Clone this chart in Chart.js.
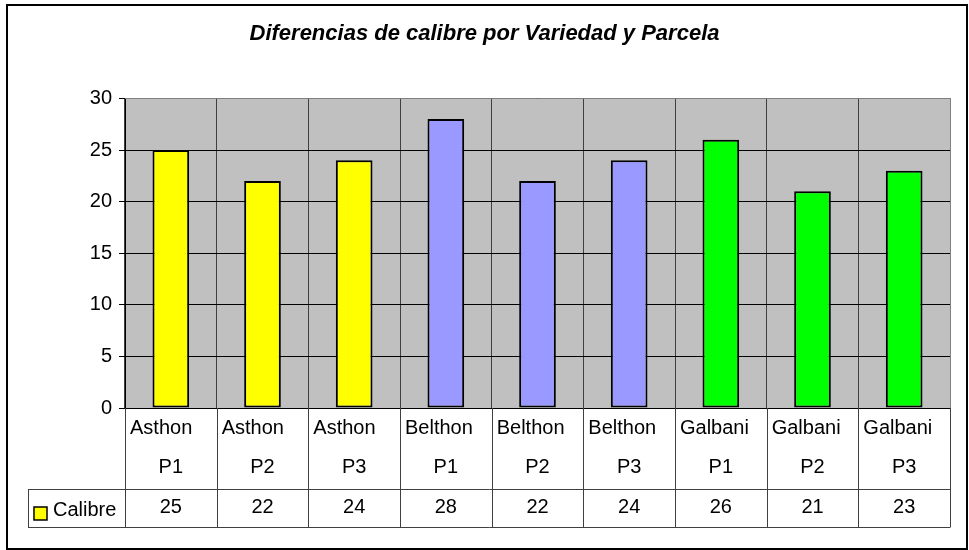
<!DOCTYPE html>
<html>
<head>
<meta charset="utf-8">
<script src="https://cdn.jsdelivr.net/npm/chart.js@4/dist/chart.umd.min.js"></script>
<style>
  html, body { margin: 0; padding: 0; background: #fff; }
  canvas { display: block; }
</style>
</head>
<body>
<canvas id="c" width="969" height="550"></canvas>
<script>
// ---- data ----
const titleText = 'Diferencias de calibre por Variedad y Parcela';
const seriesName = 'Calibre';
const varieties = ['Asthon', 'Asthon', 'Asthon', 'Belthon', 'Belthon', 'Belthon', 'Galbani', 'Galbani', 'Galbani'];
const parcels = ['P1', 'P2', 'P3', 'P1', 'P2', 'P3', 'P1', 'P2', 'P3'];
const calibre = [25, 22, 24, 28, 22, 24, 26, 21, 23];
const yTicks = [0, 5, 10, 15, 20, 25, 30];

// ---- styles ----
const varietyColors = { Asthon: '#FFFF00', Belthon: '#9999FF', Galbani: '#00FF00' };
const FONT = 'Arial, "Liberation Sans", sans-serif';

const labels = varieties.map((v, i) => v + ' ' + parcels[i]);

const bgPlugin = {
  id: 'bg',
  beforeDraw(chart) {
    const { ctx, chartArea: a } = chart;
    ctx.save();
    ctx.fillStyle = '#fff';
    ctx.fillRect(0, 0, chart.width, chart.height);
    ctx.fillStyle = '#C0C0C0';
    ctx.fillRect(a.left, a.top, a.right - a.left, a.bottom - a.top);
    ctx.restore();
  }
};

const tablePlugin = {
  id: 'dataTable',
  afterDraw(chart) {
    const { ctx, chartArea: a, scales: { x } } = chart;
    const n = labels.length;
    const w = x.getPixelForValue(1) - x.getPixelForValue(0);
    const top = a.bottom;
    const row1 = top + 81;
    const row2 = row1 + 38;
    const legendLeft = 28;
    const px = v => Math.round(v) + 0.5;

    ctx.save();
    // plot area top/right edge (gray)
    ctx.strokeStyle = '#808080';
    ctx.lineWidth = 1;
    ctx.beginPath();
    ctx.moveTo(a.left, px(a.top)); ctx.lineTo(px(a.right), px(a.top));
    ctx.lineTo(px(a.right), a.bottom);
    ctx.stroke();

    // table lines
    ctx.strokeStyle = '#404040';
    ctx.beginPath();
    for (let i = 0; i <= n; i++) {
      const xx = px(x.getPixelForValue(0) - w / 2 + i * w);
      ctx.moveTo(xx, top); ctx.lineTo(xx, row2);
    }
    ctx.moveTo(px(legendLeft), px(row1)); ctx.lineTo(px(legendLeft), px(row2));
    ctx.moveTo(legendLeft, px(row1)); ctx.lineTo(px(a.right), px(row1));
    ctx.moveTo(legendLeft, px(row2)); ctx.lineTo(px(a.right), px(row2));
    ctx.stroke();

    // text
    ctx.fillStyle = '#000';
    ctx.font = '20px ' + FONT;
    ctx.textBaseline = 'middle';
    for (let i = 0; i < n; i++) {
      const cx = x.getPixelForValue(i);
      const left = cx - w / 2;
      ctx.textAlign = 'left';
      ctx.fillText(varieties[i], left + 5, top + 20);
      ctx.textAlign = 'center';
      ctx.fillText(parcels[i], cx, top + 59);
      ctx.fillText(String(calibre[i]), cx, row1 + 18);
    }

    // legend key
    ctx.fillStyle = varietyColors[varieties[0]];
    ctx.fillRect(34, row1 + 18, 13, 13);
    ctx.strokeStyle = '#000';
    ctx.lineWidth = 1.5;
    ctx.strokeRect(34, row1 + 18, 13, 13);
    ctx.fillStyle = '#000';
    ctx.textAlign = 'left';
    ctx.fillText(seriesName, 53, row1 + 21);

    // outer frame
    ctx.strokeStyle = '#000';
    ctx.lineWidth = 2;
    ctx.strokeRect(7, 5, 960, 544);
    ctx.restore();
  }
};

new Chart(document.getElementById('c'), {
  type: 'bar',
  data: {
    labels: labels,
    datasets: [{
      label: seriesName,
      data: calibre,
      backgroundColor: varieties.map(v => varietyColors[v]),
      borderColor: '#000',
      borderWidth: 2,
      borderSkipped: false,
      barPercentage: 0.4,
      categoryPercentage: 1.0
    }]
  },
  options: {
    responsive: false,
    animation: false,
    devicePixelRatio: 1,
    layout: { padding: { top: 0, right: 19, bottom: 142, left: 19 } },
    plugins: {
      legend: { display: false },
      tooltip: { enabled: false },
      title: {
        display: true,
        text: titleText,
        color: '#000',
        font: { family: FONT, size: 22, weight: 'bold', style: 'italic', lineHeight: 1.2 },
        padding: { top: 21, bottom: 51 }
      }
    },
    scales: {
      x: {
        ticks: { display: false },
        grid: { color: '#404040', offset: true, drawTicks: false, lineWidth: 1 },
        border: { display: false },
        afterFit: s => { s.height = 0; }
      },
      y: {
        min: yTicks[0],
        max: yTicks[yTicks.length - 1],
        afterBuildTicks: s => { s.ticks = yTicks.map(v => ({ value: v })); },
        ticks: { color: '#000', font: { family: FONT, size: 20 }, padding: 7 },
        grid: { color: '#000', tickLength: 6, lineWidth: 1 },
        border: { color: '#000' },
        afterFit: s => { s.width = 106; }
      }
    }
  },
  plugins: [bgPlugin, tablePlugin]
});
</script>
</body>
</html>
